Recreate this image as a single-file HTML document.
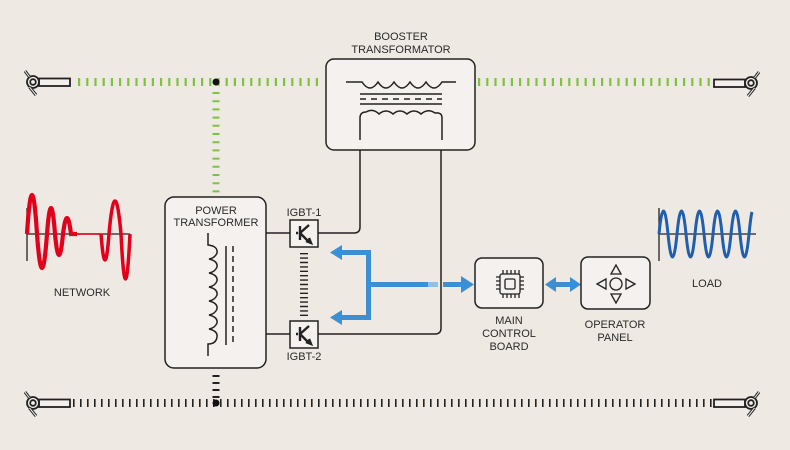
<!DOCTYPE html>
<html><head><meta charset="utf-8"><style>
html,body{margin:0;padding:0;background:#efe9e4;}
svg{display:block;font-family:"Liberation Sans",sans-serif;}
text{font-size:11px;fill:#2a2a2a;text-anchor:middle;}
</style></head><body>
<svg width="790" height="450" viewBox="0 0 790 450" xmlns="http://www.w3.org/2000/svg">
<rect width="790" height="450" fill="#efe9e4"/>
<defs>
<g id="plug" fill="none" stroke="#222" stroke-width="1.8">
<rect x="6" y="-3.5" width="31" height="7.5" fill="#f3efec"/>
<circle cx="0" cy="0" r="6" fill="#f3efec"/>
<circle cx="0" cy="0" r="2.8"/>
<line x1="-3.5" y1="-5" x2="-8" y2="-11" stroke-width="3"/>
<line x1="-3.5" y1="5" x2="3" y2="13" stroke-width="3"/>
<line x1="-3.5" y1="-5" x2="-8" y2="-11" stroke="#f3efec" stroke-width="1"/>
<line x1="-3.5" y1="5" x2="3" y2="13" stroke="#f3efec" stroke-width="1"/>
</g>
</defs>
<!-- top green line -->
<line x1="78" y1="82" x2="322" y2="82" stroke="#7dc242" stroke-width="8" stroke-dasharray="2.2 6"/>
<line x1="478" y1="82" x2="712" y2="82" stroke="#7dc242" stroke-width="8" stroke-dasharray="2.2 6"/>
<line x1="216" y1="92" x2="216" y2="196" stroke="#7dc242" stroke-width="7" stroke-dasharray="2 6.2"/>
<circle cx="216" cy="82" r="3.5" fill="#111"/>
<use href="#plug" transform="translate(33,82)"/>
<use href="#plug" transform="translate(751,83) scale(-1,1)"/>
<!-- bottom line -->
<line x1="73" y1="403" x2="712" y2="403" stroke="#222" stroke-width="8" stroke-dasharray="1.6 5.4"/>
<line x1="216" y1="375" x2="216" y2="398" stroke="#222" stroke-width="7" stroke-dasharray="2 5"/>
<circle cx="216" cy="403" r="3.5" fill="#111"/>
<use href="#plug" transform="translate(33,403)"/>
<use href="#plug" transform="translate(751,403) scale(-1,1)"/>

<!-- booster -->
<text x="401" y="40">BOOSTER</text>
<text x="401" y="53">TRANSFORMATOR</text>
<rect x="326" y="59" width="149" height="91" rx="8" fill="#f4f1ef" stroke="#222" stroke-width="1.5"/>
<g fill="none" stroke="#222" stroke-width="1.5">
<path d="M346,82 H362 Q370,94 378,82 Q386,94 394,82 Q402,94 410,82 Q418,94 426,82 Q434,94 442,82 H456"/>
<line x1="360" y1="94" x2="442" y2="94"/>
<line x1="360" y1="99" x2="442" y2="99" stroke-dasharray="6 5"/>
<line x1="360" y1="104" x2="442" y2="104"/>
<path d="M360,140 V118 Q360,112 366,112 Q373,108 379,114 Q386,108 393,114 Q400,108 407,114 Q414,108 421,114 Q428,108 435,113 Q442,112 442,118 V140"/>
<path d="M360,150 V227 Q360,233 354,233 H318"/>
<path d="M441,150 V328 Q441,334 435,334 H318"/>
<line x1="266" y1="233" x2="290" y2="233"/>
<line x1="266" y1="334" x2="290" y2="334"/>
</g>

<!-- power transformer -->
<rect x="165" y="197" width="101" height="171" rx="9" fill="#f4f1ef" stroke="#222" stroke-width="1.5"/>
<text x="216" y="214">POWER</text>
<text x="216" y="226">TRANSFORMER</text>
<g fill="none" stroke="#222" stroke-width="1.5">
<path d="M208,233 V245 Q218,246 217,253 Q215,258 209,259 Q218,261 217,267 Q215,272 209,273 Q218,275 217,281 Q215,286 209,287 Q218,289 217,295 Q215,300 209,301 Q218,303 217,309 Q215,314 209,315 Q218,317 217,323 Q215,328 209,329 Q218,331 217,337 Q216,344 208,344 V356"/>
<line x1="226" y1="246" x2="226" y2="345"/>
<line x1="233" y1="246" x2="233" y2="345" stroke-dasharray="6 4"/>
</g>

<!-- IGBTs -->
<text x="304" y="216">IGBT-1</text>
<text x="304" y="360">IGBT-2</text>
<g>
<rect x="290" y="220" width="28" height="27" fill="#f4f1ef" stroke="#222" stroke-width="1.5"/>
<rect x="290" y="321" width="28" height="27" fill="#f4f1ef" stroke="#222" stroke-width="1.5"/>
<g stroke="#222" stroke-width="2.4" fill="none">
<path d="M300,226 V240 M309,225 L300,233 L309,242 M298,233 H296 M306,241 L311,243 L309,238"/>
<path d="M300,327 V341 M309,326 L300,334 L309,343 M298,334 H296 M306,342 L311,344 L309,339"/>
</g>
</g>
<line x1="304" y1="253" x2="304" y2="318" stroke="#222" stroke-width="8" stroke-dasharray="1.4 3"/>

<!-- blue arrows -->
<g fill="#3d8fd1" stroke="none">
<rect x="366" y="250" width="5" height="70"/>
<rect x="340" y="250" width="31" height="5"/>
<rect x="340" y="315" width="31" height="5"/>
<polygon points="330,252.5 342,245 342,260"/>
<polygon points="330,317.5 342,310 342,325"/>
<rect x="368" y="282" width="60" height="5"/>
<rect x="428" y="282" width="10" height="5" fill="#8ec0e8"/>
<rect x="443" y="282" width="20" height="5"/>
<polygon points="474,284.5 461,276 461,293"/>
<rect x="553" y="282" width="20" height="5"/>
<polygon points="545,284.5 556,277 556,292"/>
<polygon points="581,284.5 570,277 570,292"/>
</g>

<!-- main control -->
<rect x="475" y="258" width="68" height="50" rx="7" fill="#f4f1ef" stroke="#222" stroke-width="1.5"/>
<g fill="none" stroke="#222" stroke-width="1.3">
<rect x="500" y="274" width="20" height="20" rx="2"/>
<rect x="505" y="279" width="10" height="10" rx="1.5"/>
<path d="M503,270 V274 M507,270 V274 M511,270 V274 M515,270 V274 M519,270 V274 M503,294 V298 M507,294 V298 M511,294 V298 M515,294 V298 M519,294 V298 M496,277 H500 M496,281 H500 M496,285 H500 M496,289 H500 M520,277 H524 M520,281 H524 M520,285 H524 M520,289 H524"/>
</g>
<text x="509" y="324">MAIN</text>
<text x="509" y="337">CONTROL</text>
<text x="509" y="350">BOARD</text>

<!-- operator -->
<rect x="581" y="257" width="69" height="52" rx="7" fill="#f4f1ef" stroke="#222" stroke-width="1.5"/>
<g fill="none" stroke="#222" stroke-width="1.3">
<circle cx="616" cy="284" r="6"/>
<polygon points="616,265 611,274 621,274"/>
<polygon points="616,303 611,294 621,294"/>
<polygon points="597,284 606,279 606,289"/>
<polygon points="635,284 626,279 626,289"/>
</g>
<text x="615" y="328">OPERATOR</text>
<text x="615" y="341">PANEL</text>

<!-- network wave -->
<line x1="27" y1="208" x2="27" y2="261" stroke="#222" stroke-width="1.3"/>
<line x1="27" y1="234" x2="130" y2="234" stroke="#222" stroke-width="1.3"/>
<path d="M27,234 Q32,156 37,234 Q42,302 47,234 Q51,182 55,234 Q59,276 63,234 Q67,202 71,234 L77,234" fill="none" stroke="#e3001b" stroke-width="4.2"/>
<path d="M101,234 Q105,286 109,234 Q115,168 121,234 Q125.5,324 130,234" fill="none" stroke="#e3001b" stroke-width="3.5"/>
<line x1="77" y1="234" x2="101" y2="234" stroke="#e3001b" stroke-width="1.5"/>
<text x="82" y="296">NETWORK</text>

<!-- load wave -->
<line x1="659" y1="208" x2="659" y2="261" stroke="#222" stroke-width="1.3"/>
<line x1="659" y1="234" x2="756" y2="234" stroke="#222" stroke-width="1.3"/>
<path d="M659,234 Q663.5,188 668,234 T677,234 T686,234 T695,234 T704,234 T713,234 T722,234 T731,234 T740,234 T749,234 Q751,215 752,212" fill="none" stroke="#1f5fae" stroke-width="3"/>
<text x="707" y="287">LOAD</text>
</svg>
</body></html>
